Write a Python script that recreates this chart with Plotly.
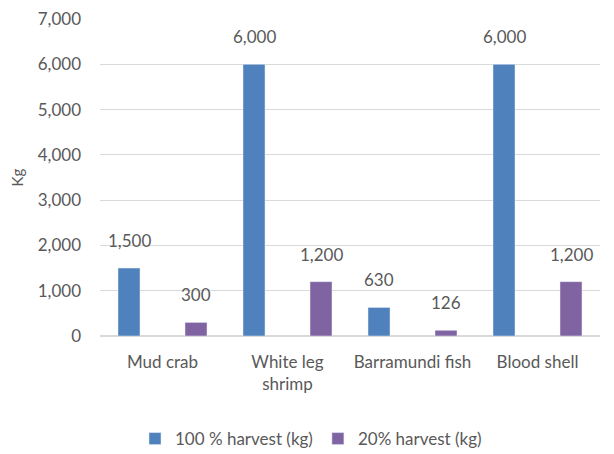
import plotly.graph_objects as go

categories = ["Mud crab", "White leg shrimp", "Barramundi fish", "Blood shell"]
tick_labels = ["Mud crab", "White leg<br>shrimp", "Barramundi fish", "Blood shell"]
full_harvest = [1500, 6000, 630, 6000]
part_harvest = [300, 1200, 126, 1200]
y_ticks = [0, 1000, 2000, 3000, 4000, 5000, 6000, 7000]

BLUE = "#4f81bd"
PURPLE = "#8064a2"
TEXT = "#595959"
GRID = "#d9d9d9"
FONT = dict(family="Lato, 'Open Sans', sans-serif", size=17, color=TEXT)

idx = list(range(len(categories)))
W = 0.176
OFF = 0.268

fig = go.Figure()
for name, vals, color, shift in (("100 % harvest (kg)", full_harvest, BLUE, -OFF),
                                 ("20% harvest (kg)", part_harvest, PURPLE, OFF)):
    fig.add_trace(go.Bar(
        x=idx, y=vals, name=name, marker_color=color,
        width=W, offset=shift - W / 2,
    ))
    for i, v in zip(idx, vals):
        fig.add_annotation(x=i + shift, y=v, text=f"{v:,}", showarrow=False,
                           yanchor="bottom", yshift=15, font=FONT)

# page body has an 8px margin, so the figure is sized to fit inside the window
fig.update_layout(
    width=606, height=446,
    margin=dict(l=92, r=14, t=11, b=118, autoexpand=False),
    paper_bgcolor="white", plot_bgcolor="white",
    font=FONT, barmode="overlay",
    legend=dict(orientation="h", x=0.07, xanchor="left", y=-0.325, yanchor="middle",
                font=dict(size=17, color=TEXT), itemwidth=30, traceorder="normal"),
)
fig.update_xaxes(tickmode="array", tickvals=idx, ticktext=tick_labels,
                 range=[-0.5, 3.5], showgrid=False, showline=False,
                 ticks="", ticklabelstandoff=14, automargin=False)
fig.update_yaxes(tickmode="array", tickvals=y_ticks, tickformat=",",
                 range=[0, 7002], gridcolor=GRID, zeroline=True, zerolinecolor=GRID,
                 title=dict(text="Kg", font=dict(size=15, color=TEXT), standoff=24),
                 ticklabelstandoff=18, automargin=False)

fig.write_html("out.html")
